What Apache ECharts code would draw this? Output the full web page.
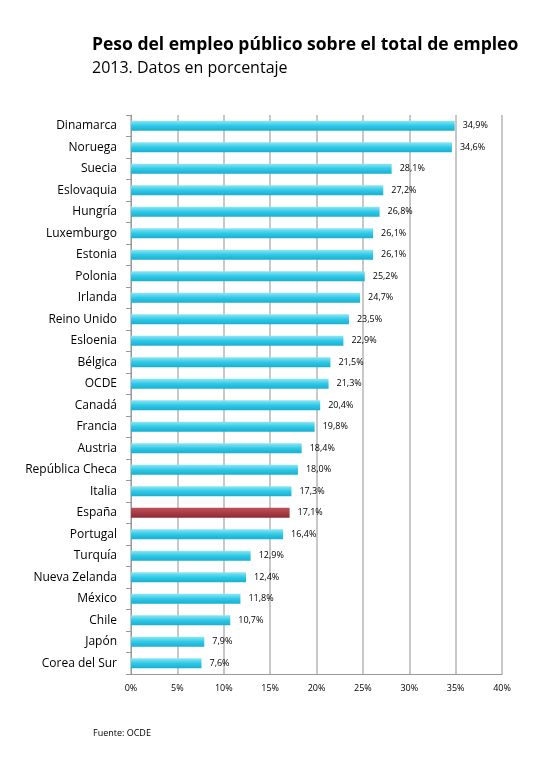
<!DOCTYPE html><html><head><meta charset="utf-8"><script src="https://cdn.jsdelivr.net/npm/echarts@6/dist/echarts.min.js"></script></head><body style="margin:0;background:#fff"><div id="c" style="width:556px;height:760px"></div><script>
const categories=["Dinamarca","Noruega","Suecia","Eslovaquia","Hungría","Luxemburgo","Estonia","Polonia","Irlanda","Reino Unido","Esloenia","Bélgica","OCDE","Canadá","Francia","Austria","República Checa","Italia","España","Portugal","Turquía","Nueva Zelanda","México","Chile","Japón","Corea del Sur"];
const values=[34.9,34.6,28.1,27.2,26.8,26.1,26.1,25.2,24.7,23.5,22.9,21.5,21.3,20.4,19.8,18.4,18.0,17.3,17.1,16.4,12.9,12.4,11.8,10.7,7.9,7.6];
const highlight="España";
const cyan=new echarts.graphic.LinearGradient(0,0,0,1,[{offset:0,color:'#8fe6f5'},{offset:0.5,color:'#2fc9e6'},{offset:1,color:'#1aaed0'}]);
const red=new echarts.graphic.LinearGradient(0,0,0,1,[{offset:0,color:'#c0505a'},{offset:1,color:'#8e2a32'}]);
const ch=echarts.init(document.getElementById('c'));
ch.setOption({
 animation:false,
 title:[{text:'Peso del empleo público sobre el total de empleo',left:87,top:31,textStyle:{fontFamily:'Open Sans',fontWeight:'bold',fontSize:17.5,color:'#000'}},
 {text:'2013. Datos en porcentaje',left:87,top:55,textStyle:{fontFamily:'Open Sans',fontWeight:'normal',fontSize:16,color:'#000'}},
 {text:'Fuente: OCDE',left:88,top:724,textStyle:{fontFamily:'Open Sans',fontWeight:'normal',fontSize:9,color:'#000'}}],
 grid:{left:131,top:115,width:371,height:559},
 xAxis:{type:'value',min:0,max:40,interval:5,axisLabel:{formatter:v=>v+'%',fontFamily:'Open Sans',fontSize:9,color:'#000',margin:10},
  splitLine:{lineStyle:{color:'#c8c8c8',width:2}},axisLine:{show:true,lineStyle:{color:'#999'}},axisTick:{show:false}},
 yAxis:{type:'category',inverse:true,data:categories,axisLabel:{fontFamily:'Open Sans',fontSize:12,color:'#000',margin:14},
  axisLine:{lineStyle:{color:'#999'}},axisTick:{show:true,length:5,lineStyle:{color:'#999'}}},
 series:[{type:'bar',barWidth:10,data:values.map((v,i)=>({value:v,itemStyle:{color:categories[i]===highlight?red:cyan}})),
  label:{show:true,position:'right',distance:8,formatter:p=>p.value.toFixed(1).replace('.',',')+'%',fontFamily:'Open Sans',fontSize:9,color:'#000'}}]
});
</script></body></html>
